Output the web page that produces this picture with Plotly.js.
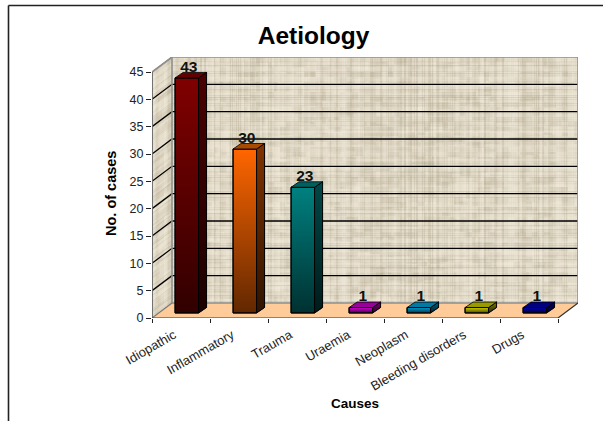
<!DOCTYPE html>
<html>
<head>
<meta charset="utf-8">
<script src="https://cdn.plot.ly/plotly-3.0.1.min.js"></script>
<style>html,body{margin:0;padding:0;background:#fff}#chart{width:603px;height:421px}</style>
</head>
<body>
<div id="chart"></div>
<script>
// Aetiology of cases, drawn as a pseudo-3D column chart
const categories = ['Idiopathic','Inflammatory','Trauma','Uraemia','Neoplasm','Bleeding disorders','Drugs'];
const values = [43, 30, 23, 1, 1, 1, 1];
const frontColors = ['#800000','#ff6600','#008080','#cc00cc','#0099cc','#cccc00','#0000aa'];
const sideColors  = ['#4a0000','#803300','#004848','#770077','#006080','#777700','#000066'];
const topColors   = ['#640000','#a84a00','#005f5f','#990099','#007aa3','#999900','#000080'];
const yTicks = [0,5,10,15,20,25,30,35,40,45];

const FONT = '"Liberation Sans", Arial, sans-serif';
const W = 603, H = 421;
const M = {l:152, r:25, t:57, b:103};
const plotW = W - M.l - M.r, plotH = H - M.t - M.b;

// Perspective offsets of the box, in axis units
const wallDx = 20/58, wallDy = 15/5.467;
const xMin = -0.5, xMax = 6.5 + wallDx, yMax = 45 + wallDy;
// Columns sit part-way into the floor and have their own small depth
const barShiftX = 0.1, barBase = 0.92, barWidth = 0.405;
const barDx = 8/58, barDy = 1.0;

// Woven cloth texture for the walls: uneven threads plus soft mottling
function weave(ctx, w, h) {
  ctx.fillStyle = '#e0d8c5';
  ctx.fillRect(0,0,w,h);
  const hash = n => { const s = Math.sin(n*12.9898)*43758.5453; return s - Math.floor(s); };
  let n = 0;
  for (let y = 0; y < h; y += 5) {
    for (let x = 0; x < w; x += 6) {
      n++;
      const v = hash(n*1.37+3), a = hash(n*2.11+9)*0.24;
      ctx.fillStyle = v > 0.5 ? `rgba(245,238,222,${a})` : `rgba(180,170,145,${a})`;
      ctx.fillRect(x, y, 3+Math.floor(hash(n+0.5)*14), 2+Math.floor(hash(n+0.25)*8));
    }
  }
  for (let i = 0; i < w; i += 2) {
    const v = hash(i+1), a = hash(i+77)*0.32;
    ctx.fillStyle = v > 0.5 ? `rgba(246,240,226,${a})` : `rgba(172,162,138,${a})`;
    ctx.fillRect(i,0,1+Math.floor(v*3),h);
  }
  for (let j = 0; j < h; j += 2) {
    const v = hash(j+501), a = hash(j+901)*0.3;
    ctx.fillStyle = v > 0.5 ? `rgba(246,240,226,${a})` : `rgba(172,162,138,${a})`;
    ctx.fillRect(0,j,w,1+Math.floor(v*2));
  }
}
function backWallImage(w, h) {
  const c = document.createElement('canvas'); c.width = w; c.height = h;
  const raw = document.createElement('canvas'); raw.width = w; raw.height = h;
  weave(raw.getContext('2d'), w, h);
  const ctx = c.getContext('2d');
  ctx.filter = 'blur(0.6px)';
  ctx.drawImage(raw, 0, 0);
  return c.toDataURL('image/png');
}
function sideWallImage(w, h, rise) {
  const c = document.createElement('canvas'); c.width = w; c.height = h;
  const ctx = c.getContext('2d');
  const raw = document.createElement('canvas'); raw.width = w; raw.height = h + rise;
  weave(raw.getContext('2d'), w, h + rise);
  ctx.beginPath();
  ctx.moveTo(0,rise); ctx.lineTo(w,0); ctx.lineTo(w,h-rise); ctx.lineTo(0,h); ctx.closePath();
  ctx.clip();
  ctx.filter = 'blur(0.6px)';
  ctx.setTransform(1,-rise/w,0,1,0,rise);
  ctx.drawImage(raw,0,-rise);
  return c.toDataURL('image/png');
}

const traces = [];
const base = {hoverinfo:'skip', showlegend:false, cliponaxis:false, type:'scatter'};
function line(xs, ys, color, width) {
  traces.push({...base, mode:'lines', x:xs, y:ys, line:{color, width}, xaxis:'x', yaxis:'y'});
}

// Floor
traces.push({...base, mode:'lines', fill:'toself', fillcolor:'#ffcc99', line:{width:0, color:'#ffcc99'},
  x:[xMin, 6.5, xMax, xMin+wallDx, xMin], y:[0, 0, wallDy, wallDy, 0], xaxis:'x', yaxis:'y'});

// Gridlines on the back wall and the slanted side wall
const gx = [], gy = [];
yTicks.filter(t => t > 0 && t < 45).forEach(t => {
  gx.push(xMin, xMin+wallDx, xMax, null);
  gy.push(t, t+wallDy, t+wallDy, null);
});
line(gx, gy, '#000000', 1.3);
line([xMin, xMin+wallDx], [45, 45+wallDy], '#222222', 1);

// Wall edges
line([xMin, xMin, xMin+wallDx, xMax, xMax], [0, 45, yMax, yMax, wallDy], '#8f8f8f', 1.6);
line([xMin+wallDx, xMin+wallDx, xMax], [yMax, wallDy, wallDy], '#8f8f8f', 1.6);
line([xMin, xMin+wallDx], [0, wallDy], '#777777', 1.2);
line([xMin, 6.5, xMax], [0, 0, wallDy], '#333333', 1.2);
line([xMin, xMin], [0, 45], '#555555', 1.2);

// Boundary ticks for the category axis come from this empty carrier
traces.push({...base, mode:'none', x:[xMin], y:[0], xaxis:'x', yaxis:'y'});

// Column front faces
const xs = categories.map((_, i) => i + barShiftX);
traces.push({type:'bar', x:xs, y:values, base:values.map(() => barBase), width:barWidth,
  marker:{color:frontColors, line:{color:'#000000', width:1}},
  hoverinfo:'skip', showlegend:false, cliponaxis:false, xaxis:'x2', yaxis:'y2'});

// Shading and the visible side and top of each column
const shade = (maxA) => ({type:'vertical', colorscale:[[0,`rgba(0,0,0,${maxA})`],[1,'rgba(0,0,0,0)']]});
values.forEach((v, i) => {
  const xl = i + barShiftX - barWidth/2, xr = i + barShiftX + barWidth/2;
  const top = v + barBase;
  traces.push({...base, mode:'lines', x:[xl,xr,xr,xl,xl], y:[barBase,barBase,top,top,barBase],
    fill:'toself', fillgradient:shade(0.62), line:{color:'#000000', width:1}, xaxis:'x2', yaxis:'y2'});
  traces.push({...base, mode:'lines', x:[xr,xr+barDx,xr+barDx,xr,xr],
    y:[barBase,barBase+barDy,top+barDy,top,barBase],
    fill:'toself', fillcolor:sideColors[i], line:{color:'#000000', width:0.8}, xaxis:'x2', yaxis:'y2'});
  traces.push({...base, mode:'lines', x:[xr,xr+barDx,xr+barDx,xr,xr],
    y:[barBase,barBase+barDy,top+barDy,top,barBase],
    fill:'toself', fillgradient:shade(0.62), line:{color:'#000000', width:0.8}, xaxis:'x2', yaxis:'y2'});
  traces.push({...base, mode:'lines', x:[xl,xr,xr+barDx,xl+barDx,xl], y:[top,top,top+barDy,top+barDy,top],
    fill:'toself', fillcolor:topColors[i], line:{color:'#000000', width:0.8}, xaxis:'x2', yaxis:'y2'});
});

// Value labels above the columns
traces.push({...base, mode:'text', x:xs.map(x => x + 0.035), y:values.map(v => v + barBase + 1.85),
  text:values.map(String), textposition:'middle center',
  textfont:{family:FONT, size:15.5, color:'#111111', weight:700}, xaxis:'x2', yaxis:'y2'});

const pxX = px => (px - M.l)/plotW;
const pxY = py => 1 - (py - M.t)/plotH;

const layout = {
  width:W, height:H,
  margin:{l:M.l, r:M.r, t:M.t, b:M.b, pad:0},
  paper_bgcolor:'#ffffff', plot_bgcolor:'rgba(0,0,0,0)',
  showlegend:false,
  font:{family:FONT, color:'#222222'},
  title:{text:'Aetiology', xref:'container', yref:'container', x:313.5/W, y:1-35/H,
    xanchor:'center', yanchor:'middle', font:{family:FONT, size:24.5, color:'#000000', weight:700}},
  xaxis:{range:[xMin,xMax], showgrid:false, zeroline:false, showline:false, fixedrange:true,
    tickmode:'array', tickvals:[-0.5,0.5,1.5,2.5,3.5,4.5,5.5,6.5], ticktext:['','','','','','','',''],
    ticks:'outside', ticklen:4, tickwidth:1, tickcolor:'#222222'},
  yaxis:{range:[0,yMax], showgrid:false, zeroline:false, showline:false, fixedrange:true,
    tickmode:'array', tickvals:yTicks, ticktext:yTicks.map(String),
    ticks:'outside', ticklen:5, tickwidth:1, tickcolor:'#222222',
    tickfont:{family:FONT, size:12.5, color:'#222222'}},
  xaxis2:{range:[xMin,xMax], overlaying:'x', anchor:'y2', side:'bottom', showgrid:false, zeroline:false,
    showline:false, fixedrange:true, tickmode:'array', tickvals:categories.map((_, i) => i), ticktext:categories,
    ticks:'', tickangle:-30, ticklabelstandoff:6, ticklabelshift:-7,
    tickfont:{family:FONT, size:13, color:'#222222'}},
  yaxis2:{range:[0,yMax], overlaying:'y', anchor:'x2', side:'left', showgrid:false, zeroline:false,
    showline:false, showticklabels:false, ticks:'', fixedrange:true},
  images:[
    {source:backWallImage(406,246), xref:'x', yref:'y', x:xMin+wallDx, y:yMax, sizex:7, sizey:45,
      sizing:'stretch', xanchor:'left', yanchor:'top', layer:'below'},
    {source:sideWallImage(20,261,15), xref:'x', yref:'y', x:xMin, y:yMax, sizex:wallDx, sizey:yMax,
      sizing:'stretch', xanchor:'left', yanchor:'top', layer:'below'}
  ],
  annotations:[
    {text:'No. of cases', xref:'paper', yref:'paper', x:pxX(111), y:pxY(194), textangle:-90, showarrow:false,
      xanchor:'center', yanchor:'middle', font:{family:FONT, size:14.5, color:'#000000', weight:700}},
    {text:'Causes', xref:'paper', yref:'paper', x:pxX(355), y:pxY(403), showarrow:false,
      xanchor:'center', yanchor:'middle', font:{family:FONT, size:13.5, color:'#000000', weight:700}}
  ],
  shapes:[
    {type:'line', xref:'paper', yref:'paper', x0:pxX(8.5), x1:pxX(603), y0:pxY(5.5), y1:pxY(5.5), line:{color:'#222222', width:1.6}},
    {type:'line', xref:'paper', yref:'paper', x0:pxX(8.5), x1:pxX(8.5), y0:pxY(5.5), y1:pxY(421), line:{color:'#222222', width:1.6}}
  ]
};

Plotly.newPlot('chart', traces, layout, {displayModeBar:false, staticPlot:true});
</script>
</body>
</html>
